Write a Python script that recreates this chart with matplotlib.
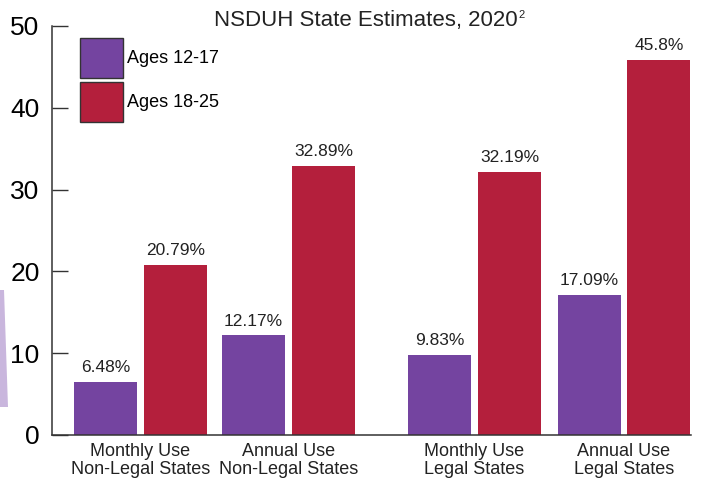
import matplotlib
matplotlib.use("Agg")
import matplotlib.pyplot as plt
from matplotlib.patches import Polygon
import numpy as np

# Data
categories = ["Monthly Use\nNon-Legal States", "Annual Use\nNon-Legal States",
              "Monthly Use\nLegal States", "Annual Use\nLegal States"]
group_pos = [0.0, 1.0, 2.257, 3.267]
ages_12_17 = [6.48, 12.17, 9.83, 17.09]
ages_18_25 = [20.79, 32.89, 32.19, 45.8]
series_names = ["Ages 12-17", "Ages 18-25"]
y_ticks = [0, 10, 20, 30, 40, 50]

purple = "#7444A0"
red = "#B41F3C"
ink = "#222222"

plt.rcParams["font.family"] = ["Liberation Sans", "DejaVu Sans"]

W, H = 701, 484
fig = plt.figure(figsize=(W / 100, H / 100), dpi=100)
ax = fig.add_axes([52 / W, 49 / H, 639 / W, 409 / H])

x = np.array(group_pos)
bw = 0.426
off = 0.236
b1 = ax.bar(x - off, ages_12_17, bw, color=purple, label=series_names[0])
b2 = ax.bar(x + off, ages_18_25, bw, color=red, label=series_names[1])
ax.bar_label(b1, labels=[f"{v}%" for v in ages_12_17], padding=5, fontsize=12.5, color=ink)
ax.bar_label(b2, labels=[f"{v}%" for v in ages_18_25], padding=5, fontsize=12.5, color=ink)

ax.set_xlim(-0.598, 3.72)
ax.set_ylim(0, 50)
ax.set_yticks(y_ticks)
ax.tick_params(axis="y", direction="in", length=11.5, width=1, color="#333333",
               labelsize=19, pad=9, labelcolor="black")
ax.set_xticks(x)
ax.set_xticklabels(categories, fontsize=13, color=ink, linespacing=1.05)
ax.tick_params(axis="x", length=0, pad=6)

for s in ["top", "right"]:
    ax.spines[s].set_visible(False)
for s in ["left", "bottom"]:
    ax.spines[s].set_color("#333333")
    ax.spines[s].set_linewidth(1.1)

leg = ax.legend(loc="upper left", bbox_to_anchor=(0.044, 0.971), frameon=False,
                fontsize=13, handlelength=2.4, handleheight=3.05,
                labelspacing=0.2, handletextpad=0.2, borderpad=0, borderaxespad=0)
for p in leg.get_patches():
    p.set_edgecolor("#333333")
    p.set_linewidth(1.0)

# title with superscript
t = fig.text(366 / W, 1 - 26 / H, "NSDUH State Estimates, 2020", fontsize=16,
             color=ink, ha="center", va="baseline")
fig.canvas.draw()
ax.annotate("2", xy=(1, 1), xycoords=t, xytext=(0.5, 0), textcoords="offset points",
            ha="left", va="top", fontsize=8, color=ink, annotation_clip=False)

# lavender decoration at the left edge
deco = Polygon([(0, 1 - 290 / H), (4 / W, 1 - 290 / H), (8 / W, 1 - 407 / H), (0, 1 - 407 / H)],
               closed=True, transform=fig.transFigure, facecolor="#C9B6DD", edgecolor="none")
fig.add_artist(deco)

fig.savefig("out.png", dpi=100)
